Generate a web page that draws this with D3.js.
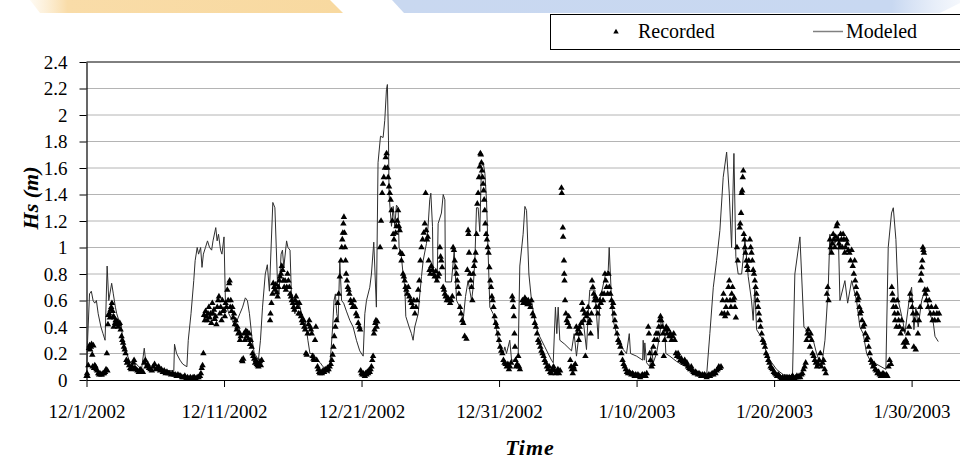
<!DOCTYPE html>
<html><head><meta charset="utf-8">
<script src="https://cdn.jsdelivr.net/npm/d3@7"></script>
<style>body{margin:0;background:#fff}svg{display:block}</style>
</head><body>
<svg id="chart" width="960" height="462"></svg>
<script>
// ---------------- data ----------------
const startLabel = "12/1/2002";
const xTickLabels = ["12/1/2002","12/11/2002","12/21/2002","12/31/2002","1/10/2003","1/20/2003","1/30/2003"];
const yTicks = [0,0.2,0.4,0.6,0.8,1,1.2,1.4,1.6,1.8,2,2.2,2.4];
const seriesNames = ["Recorded","Modeled"];
const yTitle = "Hs (m)";
const xTitle = "Time";

// [days after 12/1/2002, Hs in m]
const modeled = [
[0,0.03],[0.08,0.3],[0.22,0.65],[0.35,0.67],[0.48,0.6],[0.6,0.58],[0.72,0.6],[0.85,0.5],[1.05,0.4],[1.2,0.35],[1.35,0.3],[1.5,0.86],[1.62,0.6],[1.83,0.73],[1.95,0.65],[2.1,0.55],[2.2,0.5],[2.35,0.45],[2.5,0.42],[2.6,0.35],[2.7,0.25],[2.85,0.22],[3.1,0.15],[3.3,0.12],[3.55,0.13],[3.8,0.1],[4.0,0.08],[4.2,0.24],[4.35,0.1],[4.6,0.1],[4.8,0.08],[5.0,0.09],[5.3,0.07],[5.6,0.08],[6.0,0.07],[6.35,0.07],[6.4,0.27],[6.55,0.2],[6.8,0.15],[7.0,0.12],[7.3,0.1],[7.4,0.3],[7.6,0.5],[7.8,0.75],[7.9,0.9],[8.05,1.0],[8.15,0.95],[8.3,1.0],[8.4,0.85],[8.5,0.95],[8.65,1.0],[8.8,1.05],[8.95,1.0],[9.1,0.98],[9.2,1.05],[9.4,1.15],[9.5,1.05],[9.6,1.1],[9.75,0.98],[9.85,0.95],[10.0,1.08],[10.1,0.6],[10.35,0.5],[10.6,0.45],[10.8,0.4],[10.95,0.45],[11.15,0.5],[11.35,0.55],[11.55,0.62],[11.7,0.6],[11.85,0.5],[11.95,0.4],[12.05,0.3],[12.2,0.2],[12.35,0.18],[12.5,0.15],[12.65,0.3],[12.8,0.55],[13.0,0.8],[13.15,0.87],[13.3,0.67],[13.55,1.34],[13.7,1.3],[13.8,1.0],[13.9,0.7],[14.0,0.65],[14.15,0.95],[14.25,0.98],[14.35,0.85],[14.55,1.05],[14.65,1.0],[14.8,0.98],[14.9,0.65],[15.05,0.6],[15.15,0.5],[15.4,0.6],[15.65,0.5],[15.9,0.45],[16.1,0.3],[16.25,0.2],[16.5,0.2],[16.75,0.15],[17.0,0.13],[17.2,0.1],[17.5,0.07],[17.65,0.05],[17.8,0.25],[17.9,0.4],[18.0,0.6],[18.1,0.65],[18.2,0.5],[18.3,0.45],[18.42,0.9],[18.55,0.6],[18.7,0.58],[18.9,0.52],[19.15,0.45],[19.39,0.4],[19.63,0.3],[19.87,0.22],[20.12,0.18],[20.24,0.5],[20.36,0.6],[20.6,0.7],[20.72,0.8],[20.89,1.04],[21.08,0.55],[21.2,1.64],[21.38,1.84],[21.57,1.83],[21.69,1.96],[21.81,2.19],[21.88,2.23],[21.96,1.81],[22.0,1.41],[22.1,1.26],[22.18,1.16],[22.3,1.31],[22.42,1.16],[22.54,1.32],[22.66,1.3],[22.73,1.0],[22.9,0.93],[23.02,0.8],[23.15,0.7],[23.22,0.48],[23.46,0.4],[23.63,0.35],[23.75,0.3],[23.87,0.4],[24.12,0.5],[24.24,0.65],[24.36,0.78],[24.48,0.9],[24.72,1.03],[24.84,1.16],[24.96,1.36],[25.04,1.41],[25.16,1.16],[25.2,0.85],[25.4,0.75],[25.5,0.74],[25.57,1.18],[25.81,1.26],[25.94,1.4],[26.06,1.36],[26.1,0.74],[26.54,0.74],[26.74,0.98],[26.91,0.6],[27.15,0.55],[27.39,0.45],[27.56,0.63],[27.75,0.75],[28.0,0.6],[28.12,0.7],[28.24,0.9],[28.36,1.3],[28.48,1.3],[28.6,1.12],[28.72,1.61],[28.85,1.64],[28.97,1.56],[29.09,1.35],[29.21,0.95],[29.33,0.55],[29.57,0.5],[29.81,0.38],[30.06,0.25],[30.3,0.2],[30.42,0.25],[30.54,0.2],[30.78,0.3],[30.91,0.15],[31.15,0.15],[31.39,0.18],[31.51,0.86],[31.75,1.1],[31.88,1.31],[32.0,1.28],[32.17,0.8],[32.36,0.6],[32.6,0.45],[32.85,0.35],[33.33,0.25],[33.81,0.15],[33.94,0.13],[34.1,0.55],[34.2,0.35],[34.3,0.55],[34.42,0.3],[34.78,0.27],[35.27,0.22],[35.46,0.35],[35.63,0.18],[35.88,0.4],[36.12,0.45],[36.36,0.23],[36.48,0.5],[36.6,0.68],[36.97,0.68],[37.21,0.31],[37.33,0.6],[37.7,0.78],[37.94,0.83],[38.01,1.0],[38.18,0.6],[38.3,0.45],[38.54,0.35],[38.79,0.3],[39.03,0.23],[39.27,0.2],[39.47,0.35],[39.56,0.2],[40.0,0.18],[40.44,0.15],[40.48,0.3],[40.56,0.15],[40.6,0.28],[40.73,0.13],[40.97,0.1],[41.09,0.25],[41.21,0.13],[41.45,0.2],[41.7,0.35],[41.82,0.48],[42.06,0.35],[42.13,0.2],[42.42,0.18],[42.91,0.14],[43.39,0.11],[43.88,0.09],[44.36,0.07],[44.85,0.04],[45.09,0.03],[45.33,0.35],[45.58,0.7],[45.82,0.9],[46.06,1.13],[46.3,1.53],[46.55,1.72],[46.74,1.41],[46.91,1.0],[47.08,1.71],[47.22,0.93],[47.39,0.8],[47.64,0.8],[47.88,1.06],[48.12,0.78],[48.36,0.6],[48.48,0.45],[48.6,0.7],[48.73,0.38],[49.21,0.3],[49.45,0.2],[49.7,0.15],[50.18,0.08],[50.67,0.04],[51.34,0.03],[51.51,0.8],[51.88,1.08],[52.0,0.8],[52.17,0.4],[52.6,0.35],[52.85,0.3],[53.09,0.2],[53.45,0.1],[53.7,0.3],[53.94,0.7],[54.06,1.1],[54.13,0.96],[54.3,1.08],[54.42,1.03],[54.67,1.1],[54.79,0.6],[55.15,0.75],[55.35,0.58],[55.64,0.75],[56.0,0.6],[56.24,0.4],[56.48,0.35],[56.73,0.2],[56.97,0.15],[57.45,0.12],[58.13,0.08],[58.3,1.0],[58.54,1.26],[58.67,1.3],[58.86,1.06],[59.03,0.6],[59.39,0.43],[59.51,0.35],[59.88,0.65],[60.0,0.7],[60.17,0.38],[60.31,0.55],[60.48,0.4],[60.73,0.6],[60.97,0.68],[61.33,0.5],[61.58,0.43],[61.7,0.33],[61.94,0.29]
];

const recorded = [
[0,0.03],[0.04,0.05],[0.08,0.03],[0.13,0.11],[0.18,0.24],[0.22,0.26],[0.27,0.23],[0.32,0.25],[0.37,0.27],[0.42,0.19],[0.5,0.26],[0.45,0.1],[0.55,0.09],[0.6,0.11],[0.66,0.1],[0.72,0.08],[0.78,0.07],[0.85,0.05],[0.92,0.04],[0.98,0.05],[1.05,0.04],[1.12,0.04],[1.2,0.05],[1.28,0.05],[1.35,0.06],[1.42,0.08],[1.48,0.2],[1.52,0.07],
[1.56,0.42],[1.6,0.49],[1.65,0.5],[1.7,0.47],[1.75,0.53],[1.8,0.55],[1.85,0.58],[1.9,0.52],[1.95,0.48],[1.98,0.4],[2.02,0.47],[2.08,0.43],[2.12,0.45],[2.18,0.42],[2.25,0.44],[2.3,0.4],[2.36,0.42],[2.42,0.43],[2.48,0.38],[2.55,0.33],[2.6,0.3],[2.66,0.28],[2.72,0.25],[2.78,0.23],[2.84,0.2],[2.9,0.15],[2.95,0.13],[3.02,0.14],[3.1,0.11],[3.18,0.09],[3.25,0.08],[3.32,0.1],[3.4,0.13],[3.46,0.15],[3.52,0.09],
[3.6,0.08],[3.7,0.07],[3.8,0.06],[3.9,0.08],[4.0,0.07],[4.1,0.06],[4.2,0.13],[4.28,0.15],[4.36,0.1],[4.45,0.12],[4.55,0.09],[4.65,0.08],[4.75,0.07],[4.85,0.1],[4.95,0.12],[5.05,0.08],[5.15,0.09],[5.25,0.1],[5.35,0.07],[5.45,0.08],[5.55,0.06],[5.65,0.07],[5.75,0.05],[5.85,0.06],[5.95,0.05],[6.05,0.05],[6.15,0.04],[6.25,0.05],[6.35,0.04],[6.45,0.04],[6.55,0.03],[6.65,0.04],[6.75,0.03],[6.85,0.03],[6.95,0.02],[7.05,0.02],[7.15,0.03],[7.25,0.01],[7.35,0.02],[7.45,0.01],[7.55,0.02],[7.65,0.01],[7.75,0.02],[7.85,0.02],[7.95,0.01],[8.05,0.02],[8.15,0.02],[8.25,0.03],[8.32,0.05],[8.38,0.09],[8.44,0.11],[8.5,0.2],
[8.55,0.49],[8.6,0.45],[8.66,0.52],[8.72,0.48],[8.78,0.45],[8.84,0.5],[8.9,0.55],[8.96,0.47],[9.02,0.5],[9.08,0.43],[9.15,0.58],[9.2,0.5],[9.27,0.53],[9.33,0.46],[9.39,0.48],[9.45,0.42],[9.51,0.55],[9.57,0.6],[9.63,0.63],[9.7,0.5],[9.76,0.55],[9.82,0.45],[9.88,0.6],[9.94,0.52],[10.0,0.53],[10.06,0.48],[10.12,0.58],[10.18,0.55],[10.24,0.68],[10.3,0.6],[10.37,0.73],[10.41,0.75],[10.45,0.55],[10.49,0.6],[10.55,0.52],[10.61,0.55],[10.67,0.47],[10.73,0.5],[10.79,0.42],[10.85,0.45],[10.92,0.38],[10.98,0.4],[11.04,0.35],[11.1,0.36],[11.16,0.3],[11.22,0.33],[11.3,0.15],[11.34,0.14],[11.4,0.16],[11.46,0.35],[11.52,0.3],[11.59,0.37],[11.65,0.33],[11.71,0.36],[11.77,0.31],[11.83,0.35],[11.89,0.27],[11.95,0.3],[12.01,0.25],[12.07,0.2],[12.13,0.18],[12.2,0.16],[12.26,0.13],[12.32,0.15],[12.38,0.12],[12.44,0.11],[12.5,0.1],[12.56,0.12],[12.62,0.14],[12.68,0.11],[12.74,0.15],
[13.35,0.45],[13.38,0.5],[13.45,0.58],[13.52,0.65],[13.58,0.73],[13.65,0.7],[13.7,0.68],[13.76,0.72],[13.83,0.66],[13.9,0.63],[13.96,0.7],[14.02,0.75],[14.08,0.78],[14.14,0.8],[14.2,0.86],[14.26,0.83],[14.32,0.75],[14.38,0.7],[14.44,0.75],[14.5,0.68],[14.56,0.7],[14.62,0.8],[14.68,0.75],[14.75,0.7],[14.81,0.65],[14.87,0.63],[14.93,0.6],[15.0,0.58],[15.06,0.55],[15.12,0.53],[15.18,0.6],[15.24,0.63],[15.3,0.58],[15.36,0.55],[15.42,0.5],[15.48,0.58],[15.54,0.5],[15.6,0.48],[15.66,0.45],[15.72,0.43],[15.78,0.45],[15.84,0.4],[15.9,0.38],[15.96,0.2],[16.02,0.19],[16.08,0.35],[16.14,0.42],[16.2,0.45],[16.26,0.4],[16.32,0.38],[16.38,0.35],[16.44,0.18],[16.5,0.16],[16.56,0.15],[16.62,0.3],[16.68,0.4],[16.74,0.15],[16.8,0.1],[16.86,0.08],[16.92,0.06],[16.98,0.05],[17.05,0.06],[17.12,0.05],[17.2,0.07],[17.28,0.06],[17.36,0.08],[17.44,0.07],[17.52,0.09],[17.6,0.08],[17.68,0.1],[17.76,0.12],
[17.84,0.15],[17.9,0.19],[17.96,0.25],[18.02,0.33],[18.1,0.4],[18.18,0.45],[18.26,0.58],[18.34,0.65],[18.42,0.78],[18.5,0.9],[18.56,1.0],[18.6,1.06],[18.64,1.11],[18.68,1.18],[18.72,1.23],[18.76,1.11],[18.8,1.0],[18.84,0.9],[18.88,0.8],[18.94,0.75],[19.0,0.7],[19.06,0.68],[19.12,0.65],[19.2,0.6],[19.28,0.58],[19.36,0.55],[19.44,0.6],[19.52,0.55],[19.6,0.5],[19.68,0.48],[19.76,0.43],[19.84,0.4],[19.9,0.38],
[19.94,0.07],[20.0,0.05],[20.06,0.04],[20.12,0.05],[20.18,0.04],[20.24,0.03],[20.3,0.05],[20.36,0.04],[20.42,0.06],[20.48,0.05],[20.54,0.07],[20.6,0.06],[20.66,0.08],[20.72,0.1],[20.78,0.15],[20.84,0.18],[20.9,0.35],[20.95,0.38],[21.0,0.43],[21.05,0.45],[21.1,0.4],[21.15,0.44],
[21.35,1.0],[21.42,1.2],[21.5,1.41],[21.56,1.48],[21.62,1.53],[21.7,1.6],[21.76,1.68],[21.82,1.71],[21.88,1.6],[21.94,1.53],[22.0,1.46],[22.06,1.41],[22.12,1.36],[22.18,1.28],[22.24,1.2],[22.3,1.1],[22.36,1.06],[22.42,1.0],[22.48,1.11],[22.54,1.16],[22.6,1.2],[22.66,1.28],[22.72,1.16],[22.78,1.13],[22.84,0.96],[22.9,0.9],[22.96,0.95],[23.02,0.8],[23.08,0.78],[23.14,0.75],[23.2,0.7],[23.26,0.68],[23.32,0.65],[23.4,0.7],[23.48,0.63],[23.56,0.6],[23.64,0.58],[23.72,0.55],[23.8,0.6],[23.88,0.5],[23.96,0.55],[24.04,0.6],[24.12,0.68],[24.2,0.75],[24.28,0.9],[24.36,1.0],[24.44,1.06],[24.52,1.11],[24.6,1.18],[24.66,1.41],[24.7,1.13],[24.76,1.06],[24.82,1.08],[24.88,0.9],[24.94,0.83],[25.0,0.8],[25.08,0.86],[25.16,0.83],[25.24,0.8],[25.32,0.78],[25.4,0.82],[25.48,0.75],[25.56,0.78],[25.64,0.8],[25.7,1.0],[25.75,0.93],[25.8,0.9],[25.86,0.85],[25.94,0.7],[26.0,0.68],[26.06,0.65],[26.12,0.63],[26.2,0.6],[26.28,0.62],[26.36,0.6],[26.44,0.58],[26.52,0.6],[26.6,0.63],[26.66,1.0],[26.72,0.98],[26.78,0.9],[26.84,0.85],[26.9,0.8],[26.96,0.75],[27.02,0.7],[27.08,0.65],[27.16,0.55],[27.24,0.5],[27.32,0.45],[27.4,0.43],[27.5,0.33],[27.63,0.31],[27.7,0.83],[27.75,1.13],[27.78,1.1],[27.82,0.96],[27.88,0.8],[27.94,0.75],[28.0,0.7],[28.06,0.6],[28.12,0.8],[28.18,0.86],[28.24,0.9],[28.3,0.96],[28.36,1.1],[28.42,1.33],[28.48,1.41],[28.54,1.53],[28.6,1.61],[28.64,1.71],[28.68,1.7],[28.72,1.64],[28.76,1.58],[28.8,1.53],[28.84,1.48],[28.88,1.43],[28.92,1.36],[28.96,1.28],[29.0,1.18],[29.06,1.1],[29.12,1.06],[29.18,1.0],[29.24,0.96],[29.3,0.85],[29.36,0.75],[29.42,0.7],[29.48,0.63],[29.54,0.6],[29.6,0.55],[29.68,0.48],[29.76,0.43],[29.84,0.4],[29.92,0.35],[30.0,0.3],[30.08,0.25],[30.16,0.22],[30.24,0.2],[30.32,0.15],[30.4,0.13],[30.48,0.12],[30.56,0.1],[30.64,0.12],[30.72,0.08],[30.8,0.1],[30.88,0.13],[30.96,0.63],[31.0,0.6],[31.04,0.55],[31.08,0.48],[31.12,0.35],[31.16,0.25],[31.2,0.15],[31.24,0.1],[31.32,0.12],[31.4,0.18],[31.46,0.1],[31.52,0.08],[31.7,0.6],[31.76,0.58],[31.82,0.6],[31.88,0.62],[31.94,0.58],[32.0,0.6],[32.06,0.57],[32.12,0.6],[32.2,0.58],[32.28,0.55],[32.36,0.6],[32.44,0.5],[32.52,0.48],[32.6,0.43],[32.68,0.4],[32.76,0.35],[32.84,0.3],[32.92,0.28],[33.0,0.25],[33.08,0.22],[33.16,0.2],[33.24,0.18],[33.32,0.15],[33.4,0.13],[33.48,0.1],[33.56,0.08],[33.64,0.1],[33.72,0.06],[33.8,0.05],[33.88,0.08],[33.96,0.1],[34.04,0.07],[34.12,0.05],[34.2,0.06],[34.28,0.08],[34.36,0.05],[34.44,0.07],
[34.54,1.45],[34.56,1.41],[34.64,1.15],[34.66,1.08],[34.72,0.9],[34.74,0.8],[34.76,0.75],[34.8,0.6],[34.86,0.5],[34.92,0.45],[35.0,0.43],[35.06,0.48],[35.12,0.4],[35.18,0.15],[35.24,0.1],[35.3,0.08],[35.36,0.05],[35.42,0.1],[35.48,0.08],[35.54,0.12],[35.62,0.4],[35.68,0.35],[35.74,0.38],[35.8,0.3],[35.86,0.4],[35.92,0.35],[35.98,0.43],[36.04,0.58],[36.1,0.53],[36.16,0.45],[36.22,0.5],[36.28,0.18],[36.36,0.48],[36.42,0.5],[36.48,0.55],[36.54,0.43],[36.6,0.45],[36.66,0.35],[36.72,0.5],[36.76,0.75],[36.82,0.7],[36.88,0.65],[36.94,0.6],[37.0,0.63],[37.06,0.55],[37.12,0.6],[37.18,0.5],[37.24,0.55],[37.32,0.6],[37.4,0.58],[37.48,0.65],[37.56,0.6],[37.64,0.65],[37.7,0.8],[37.76,0.75],[37.82,0.7],[37.9,0.65],[37.96,0.8],[38.02,0.7],[38.1,0.65],[38.18,0.6],[38.24,0.55],[38.3,0.58],[38.36,0.5],[38.42,0.45],[38.5,0.4],[38.58,0.35],[38.66,0.3],[38.74,0.28],[38.82,0.25],[38.9,0.2],[38.98,0.15],[39.06,0.12],[39.14,0.1],[39.22,0.08],[39.3,0.06],[39.38,0.05],[39.46,0.06],[39.54,0.05],[39.62,0.04],[39.7,0.05],[39.78,0.04],[39.86,0.03],[39.94,0.04],[40.02,0.03],[40.1,0.04],[40.18,0.03],[40.26,0.02],[40.34,0.03],[40.42,0.04],[40.5,0.03],[40.58,0.04],[40.66,0.03],[40.74,0.05],
[40.85,0.4],[40.9,0.35],[40.96,0.2],[41.02,0.15],[41.1,0.1],[41.16,0.12],[41.22,0.25],[41.3,0.3],[41.36,0.2],[41.42,0.35],[41.5,0.3],[41.56,0.35],[41.62,0.4],[41.68,0.45],[41.74,0.48],[41.8,0.45],[41.86,0.4],[41.92,0.35],[41.98,0.18],[42.04,0.3],[42.1,0.38],[42.16,0.4],[42.22,0.35],[42.3,0.38],[42.38,0.33],[42.46,0.35],[42.54,0.3],[42.62,0.33],[42.7,0.35],[42.78,0.3],[42.86,0.2],[42.94,0.18],[43.02,0.2],[43.1,0.17],[43.18,0.15],[43.26,0.16],[43.34,0.14],[43.42,0.13],[43.5,0.15],[43.58,0.12],[43.66,0.13],[43.74,0.1],[43.82,0.09],[43.9,0.08],[43.98,0.1],[44.06,0.07],[44.14,0.06],[44.22,0.05],[44.3,0.06],[44.38,0.05],[44.46,0.04],[44.54,0.05],[44.62,0.04],[44.7,0.03],[44.78,0.04],[44.86,0.03],[44.94,0.04],[45.02,0.03],[45.1,0.02],[45.18,0.03],[45.26,0.04],[45.34,0.03],[45.42,0.04],[45.5,0.05],[45.58,0.04],[45.66,0.06],[45.74,0.05],[45.82,0.07],[45.9,0.08],[45.98,0.1],[46.06,0.09],[46.14,0.1],
[46.2,0.5],[46.26,0.6],[46.32,0.65],[46.38,0.5],[46.44,0.48],[46.5,0.55],[46.56,0.6],[46.62,0.5],[46.68,0.7],[46.74,0.75],[46.8,0.6],[46.86,0.55],[46.92,0.65],[46.98,0.7],[47.04,0.6],[47.1,0.62],[47.16,0.55],[47.22,0.47],[47.3,1.0],[47.36,0.9],[47.5,1.15],[47.54,1.18],[47.6,1.26],[47.64,1.41],[47.68,1.43],[47.72,1.53],[47.76,1.58],[47.8,1.1],[47.84,1.06],[47.88,1.0],[47.92,0.96],[47.98,0.9],[48.04,0.86],[48.1,0.83],[48.16,0.9],[48.24,1.06],[48.3,1.0],[48.36,0.96],[48.42,0.9],[48.48,0.83],[48.54,0.8],[48.6,0.75],[48.66,0.7],[48.72,0.65],[48.78,0.6],[48.84,0.55],[48.9,0.5],[48.96,0.45],[49.02,0.4],[49.1,0.35],[49.18,0.3],[49.26,0.28],[49.34,0.25],[49.42,0.2],[49.5,0.18],[49.58,0.15],[49.66,0.13],[49.74,0.1],[49.82,0.09],[49.9,0.08],[49.98,0.06],[50.06,0.05],[50.14,0.04],[50.22,0.03],[50.3,0.04],[50.38,0.03],[50.46,0.02],[50.54,0.01],[50.62,0.02],[50.7,0.01],[50.78,0.02],[50.86,0.01],[50.94,0.02],[51.02,0.01],[51.1,0.02],[51.18,0.01],[51.26,0.02],[51.34,0.03],[51.42,0.02],[51.5,0.01],[51.58,0.02],[51.66,0.03],[51.74,0.02],[51.82,0.03],[51.9,0.02],[51.98,0.04],[52.06,0.05],[52.14,0.08],[52.22,0.1],[52.3,0.13],[52.36,0.3],[52.42,0.35],[52.48,0.38],[52.54,0.33],[52.6,0.25],[52.66,0.35],[52.72,0.3],[52.8,0.2],[52.88,0.18],[52.96,0.15],[53.04,0.13],[53.12,0.1],[53.2,0.12],[53.28,0.15],[53.36,0.2],[53.44,0.1],[53.52,0.13],[53.6,0.15],[53.68,0.08],[53.76,0.05],
[53.84,0.65],[53.9,0.7],[53.96,0.6],[54.06,1.06],[54.12,1.0],[54.18,0.96],[54.24,1.03],[54.3,1.1],[54.36,1.06],[54.42,1.0],[54.48,1.08],[54.54,1.16],[54.6,1.18],[54.66,1.06],[54.72,1.03],[54.78,1.0],[54.84,1.1],[54.9,1.06],[54.96,1.0],[55.02,1.1],[55.08,1.06],[55.14,0.96],[55.2,1.0],[55.26,1.06],[55.32,1.03],[55.4,0.98],[55.48,0.96],[55.56,0.9],[55.64,0.98],[55.72,0.86],[55.8,0.8],[55.86,0.9],[55.9,0.75],[55.96,0.7],[56.02,0.65],[56.08,0.6],[56.14,0.62],[56.2,0.55],[56.26,0.5],[56.32,0.52],[56.4,0.45],[56.48,0.4],[56.56,0.42],[56.64,0.35],[56.72,0.3],[56.8,0.32],[56.88,0.25],[56.96,0.2],[57.04,0.15],[57.12,0.13],[57.2,0.1],[57.28,0.12],[57.36,0.08],[57.44,0.07],[57.52,0.05],[57.6,0.06],[57.68,0.04],[57.76,0.03],[57.84,0.04],[57.92,0.05],[58.0,0.04],[58.08,0.03],[58.16,0.04],[58.24,0.03],[58.32,0.1],[58.4,0.15],[58.5,0.12],
[58.56,0.7],[58.6,0.65],[58.64,0.6],[58.68,0.55],[58.72,0.6],[58.76,0.5],[58.8,0.45],[58.86,0.55],[58.9,0.4],[58.96,0.6],[59.0,0.5],[59.06,0.45],[59.12,0.4],[59.2,0.35],[59.28,0.45],[59.36,0.38],[59.42,0.28],[59.5,0.25],[59.58,0.3],[59.66,0.28],[59.74,0.35],[59.82,0.4],[59.9,0.65],[59.96,0.6],[60.04,0.55],[60.1,0.5],[60.16,0.25],[60.22,0.45],[60.3,0.23],[60.38,0.5],[60.46,0.35],[60.54,0.45],[60.62,0.55],[60.66,0.75],[60.7,0.8],[60.74,0.85],[60.78,0.9],[60.82,1.0],[60.86,0.98],[60.9,0.96],[60.96,0.68],[61.02,0.65],[61.08,0.6],[61.14,0.68],[61.2,0.55],[61.28,0.6],[61.36,0.5],[61.44,0.55],[61.52,0.45],[61.6,0.5],[61.68,0.45],[61.76,0.55],[61.84,0.5],[61.92,0.45],[62.0,0.5]
];

// ---------------- chart ----------------
(function () {
const svg = d3.select("#chart");
const parse = d3.timeParse("%m/%d/%Y");
const start = parse(startLabel);
const DAY = 86400000;
const toDate = d => new Date(start.getTime() + d * DAY);
const fontFam = "'Liberation Serif','Times New Roman',serif";

const pL = 86.5, pR = 960, pT = 62, pB = 380;
const x = d3.scaleTime().domain([start, toDate(63.52)]).range([pL, pR]);
const y = d3.scaleLinear().domain([0, 2.4]).range([pB, pT]);

// decorative header band (from the source image)
const defs = svg.append("defs");
const g1 = defs.append("linearGradient").attr("id","gOr");
g1.append("stop").attr("offset","0%").attr("stop-color","#fbe6c0").attr("stop-opacity",0.2);
g1.append("stop").attr("offset","12%").attr("stop-color","#f9dca8");
g1.append("stop").attr("offset","100%").attr("stop-color","#f8d9a0");
const g2 = defs.append("linearGradient").attr("id","gBl");
g2.append("stop").attr("offset","0%").attr("stop-color","#c9d8f0");
g2.append("stop").attr("offset","88%").attr("stop-color","#c8d8f1");
g2.append("stop").attr("offset","100%").attr("stop-color","#dce6f6").attr("stop-opacity",0.3);
svg.append("path").attr("d","M30,0 L330,0 L343,13 L40,13 Z").attr("fill","url(#gOr)");
svg.append("path").attr("d","M392,0 L960,0 L960,3 L940,13 L404,13 Z").attr("fill","url(#gBl)");

// gridlines
svg.append("g").selectAll("line").data(yTicks.filter(v => v > 0 && v < 2.4)).join("line")
  .attr("x1", pL).attr("x2", pR).attr("y1", d => y(d)).attr("y2", d => y(d))
  .attr("stroke", "#b4b4b4").attr("stroke-width", 1);
svg.append("line").attr("x1", pL).attr("x2", pR).attr("y1", y(2.4)).attr("y2", y(2.4))
  .attr("stroke", "#000").attr("stroke-width", 1);

// axes
const yAxis = d3.axisLeft(y).tickValues(yTicks).tickSize(7).tickSizeOuter(0).tickPadding(12)
  .tickFormat(d => String(+d.toFixed(1)));
const gy = svg.append("g").attr("transform", `translate(${pL},0)`).call(yAxis);
const xAxis = d3.axisBottom(x).tickValues(xTickLabels.map(parse)).tickSize(7).tickSizeOuter(0).tickPadding(18)
  .tickFormat((d, i) => xTickLabels[i]);
const gx = svg.append("g").attr("transform", `translate(0,${pB})`).call(xAxis);
[gx, gy].forEach(g => {
  g.select(".domain").attr("stroke", "#000").attr("stroke-width", 1.2);
  g.selectAll(".tick line").attr("stroke", "#000");
  g.selectAll("text").attr("font-family", fontFam).attr("font-size", 19).attr("fill", "#000");
});

// modeled line
const line = d3.line().x(d => x(toDate(d[0]))).y(d => y(d[1]));
svg.append("path").datum(modeled).attr("d", line)
  .attr("fill", "none").attr("stroke", "#2e2e2e").attr("stroke-width", 1);

// recorded triangles
const tri = d3.symbol(d3.symbolTriangle).size(18);
svg.append("g").selectAll("path").data(recorded).join("path")
  .attr("d", tri)
  .attr("transform", d => `translate(${x(toDate(d[0]))},${y(d[1])})`)
  .attr("fill", "#000");

// axis titles
svg.append("text").attr("transform", "translate(38,198) rotate(-90)")
  .attr("text-anchor", "middle").attr("font-family", fontFam).attr("font-size", 22)
  .attr("font-weight", "bold").attr("font-style", "italic").text(yTitle);
svg.append("text").attr("x", 530).attr("y", 455).attr("text-anchor", "middle")
  .attr("font-family", fontFam).attr("font-size", 22).attr("letter-spacing", 1)
  .attr("font-weight", "bold").attr("font-style", "italic").text(xTitle);

// legend
const lg = svg.append("g");
lg.append("rect").attr("x", 550.5).attr("y", 14.5).attr("width", 420).attr("height", 35)
  .attr("fill", "#fff").attr("stroke", "#000").attr("stroke-width", 1);
lg.append("path").attr("d", d3.symbol(d3.symbolTriangle).size(13)).attr("transform", "translate(616,32)").attr("fill", "#000");
lg.append("text").attr("x", 638).attr("y", 38).attr("font-family", fontFam).attr("font-size", 20).text(seriesNames[0]);
lg.append("line").attr("x1", 813).attr("x2", 843).attr("y1", 31.5).attr("y2", 31.5).attr("stroke", "#808080").attr("stroke-width", 1.5);
lg.append("text").attr("x", 846).attr("y", 38).attr("font-family", fontFam).attr("font-size", 20).text(seriesNames[1]);
})();
</script>
</body></html>
